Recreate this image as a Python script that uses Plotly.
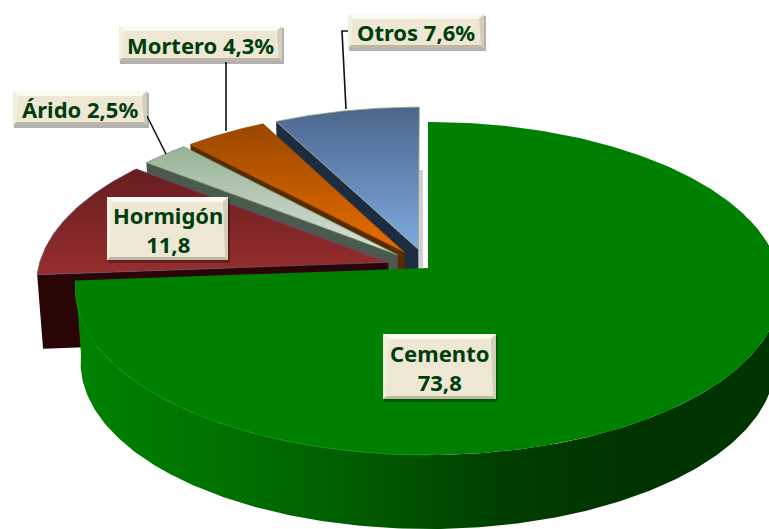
import numpy as np
import plotly.graph_objects as go

categories = ["Cemento", "Hormigón", "Árido", "Mortero", "Otros"]
values = [73.8, 11.8, 2.5, 4.3, 7.6]
label_texts = ["Cemento<br>73,8", "Hormigón<br>11,8", "Árido 2,5%", "Mortero 4,3%", "Otros 7,6%"]
exploded = [0, 1, 1, 1, 1]

# styles per slice: top gradient (front, back), cut face colour
top_colors = [("#008000", "#008000"), ("#982e2e", "#651d1f"), ("#dbe3da", "#96b296"),
              ("#e86e00", "#9a4700"), ("#7eaae0", "#4b668c")]
face_colors = ["#006000", "#2a0506", "#4a5a4c", "#5a2b00", "#1d2d41"]
edge_colors = ["#008000", "#6b4a70", "#7f9a7c", "#a04a00", "#9aa888"]

W, H = 769, 529
CX, CY = 428.0, 268.0      # projected apex of the pie on the canvas
RX, A, P = 350.0, 164.0, 0.123   # projection
DEPTH, BOTTOM_X = 74.0, 0.985
EXPLODE = 0.119


def project(th, r=1.0, off=(0.0, 0.0), bottom=False):
    """Angle (deg, clockwise from 12 o'clock) -> canvas position."""
    th = np.radians(th)
    X = r * np.sin(th) + off[0]
    Y = r * np.cos(th) + off[1]
    k = 1 + P * Y
    sx = BOTTOM_X if bottom else 1.0
    return CX + RX * sx * X / k, CY + (DEPTH if bottom else 0) - A * Y / k


def poly(fig, xs, ys, colors=None, color=None, line=None, gtype="vertical"):
    kw = dict(x=np.asarray(xs), y=np.asarray(ys), mode="lines", fill="toself", hoverinfo="skip",
              showlegend=False, line=dict(width=line[1], color=line[0]) if line else dict(width=0))
    if colors:
        kw["fillgradient"] = dict(type=gtype,
                                  colorscale=[[i / (len(colors) - 1), c] for i, c in enumerate(colors)])
    else:
        kw["fillcolor"] = color
    fig.add_trace(go.Scatter(**kw))


edges = np.concatenate([[0], np.cumsum(values) / np.sum(values) * 360])
fig = go.Figure()

# back slices, far to near, then the big slice
for i in [4, 3, 2, 1]:
    a0, a1 = edges[i], edges[i + 1]
    mid = np.radians((a0 + a1) / 2)
    off = (EXPLODE * np.sin(mid) * exploded[i], EXPLODE * np.cos(mid) * exploded[i])
    # cut face at the slice's starting angle
    ax, ay = project(a0, 0, off)
    ox, oy = project(a0, 1, off)
    bx, by = project(a0, 0, off, True)
    ex, ey = project(a0, 1, off, True)
    poly(fig, [ax, ox, ex, bx, ax], [ay, oy, ey, by, ay], color=face_colors[i])
    # top face
    th = np.linspace(a0, a1, 60)
    px, py = project(th, 1, off)
    xs = np.r_[ax, px, ax]
    ys = np.r_[ay, py, ay]
    poly(fig, xs, ys, colors=list(top_colors[i]), line=(edge_colors[i], 0.8))

# big slice outer wall
a0, a1 = edges[0], edges[1]
th = np.linspace(72, a1, 240)
tx, ty = project(th)
bx, by = project(th, bottom=True)
poly(fig, np.r_[tx, bx[::-1], tx[0]], np.r_[ty, by[::-1], ty[0]],
     colors=["#008200", "#007200", "#005c00", "#003f00", "#003300", "#003500"], gtype="horizontal")
# big slice top
th = np.linspace(a0, a1, 360)
px, py = project(th)
ax, ay = project(a0, 0)
poly(fig, np.r_[ax, px, ax], np.r_[ay, py, ay], color=top_colors[0][0])
fx, fy = project(np.linspace(180, a1, 200))
fig.add_trace(go.Scatter(x=fx, y=fy, mode="lines", line=dict(color="#0a950a", width=1),
                         hoverinfo="skip", showlegend=False))

# leader lines
leaders = [([348, 342, 346], [31, 31, 109]), ([226, 226], [62, 131]), ([147, 166], [116, 154])]
for lx, ly in leaders:
    fig.add_trace(go.Scatter(x=lx, y=ly, mode="lines", line=dict(color="#101010", width=1.6),
                             hoverinfo="skip", showlegend=False))

# bevelled label boxes
boxes = {"Cemento": (383, 334, 496, 399), "Hormigón": (107, 197, 228, 260),
         "Árido": (13, 91, 147, 125), "Mortero": (119, 26, 282, 61), "Otros": (348, 14, 484, 48)}
shapes, annotations = [], []
for name, text in zip(categories, label_texts):
    x0, y0, x1, y1 = boxes[name]
    shapes.append(dict(type="rect", x0=x0 + 1, y0=y0 + 2, x1=x1 + 2, y1=y1 + 3, line_width=0,
                       fillcolor="rgba(0,0,0,0.30)"))
    shapes.append(dict(type="rect", x0=x0, y0=y0, x1=x1, y1=y1, line_width=0, fillcolor="#ede7d4"))
    shapes.append(dict(type="path", path=f"M{x0},{y0} L{x1},{y0} L{x1-5},{y0+5} L{x0+5},{y0+5} Z",
                       line_width=0, fillcolor="#fbf9f1"))
    shapes.append(dict(type="path", path=f"M{x0},{y1} L{x1},{y1} L{x1-3},{y1-3} L{x0+3},{y1-3} Z",
                       line_width=0, fillcolor="#bdb8a3"))
    shapes.append(dict(type="path", path=f"M{x1},{y0} L{x1},{y1} L{x1-3},{y1-3} L{x1-5},{y0+5} Z",
                       line_width=0, fillcolor="#d3cdb9"))
    shapes.append(dict(type="path", path=f"M{x0},{y0} L{x0},{y1} L{x0+3},{y1-3} L{x0+5},{y0+5} Z",
                       line_width=0, fillcolor="#f3efe0"))
    annotations.append(dict(x=(x0 + x1) / 2, y=(y0 + y1) / 2 + 1, text=text, showarrow=False,
                            xref="x", yref="y", xanchor="center", yanchor="middle", align="center",
                            font=dict(family="Noto Sans", size=22, color="#003d0c", weight="bold")))

# soft shadow right of the blue slice
shapes.insert(0, dict(type="rect", x0=417.5, y0=170, x1=423, y1=268, line_width=0,
                      fillcolor="rgba(120,120,120,0.35)", layer="below"))

fig.update_layout(
    width=W, height=H, margin=dict(l=0, r=0, t=0, b=0), paper_bgcolor="white", plot_bgcolor="white",
    xaxis=dict(range=[0, W], visible=False, fixedrange=True),
    yaxis=dict(range=[H, 0], visible=False, fixedrange=True),
    shapes=shapes, annotations=annotations, showlegend=False,
)
fig.write_html("out.html", config=dict(displayModeBar=False),
               post_script="document.body.style.margin='0';document.body.style.overflow='hidden';")
